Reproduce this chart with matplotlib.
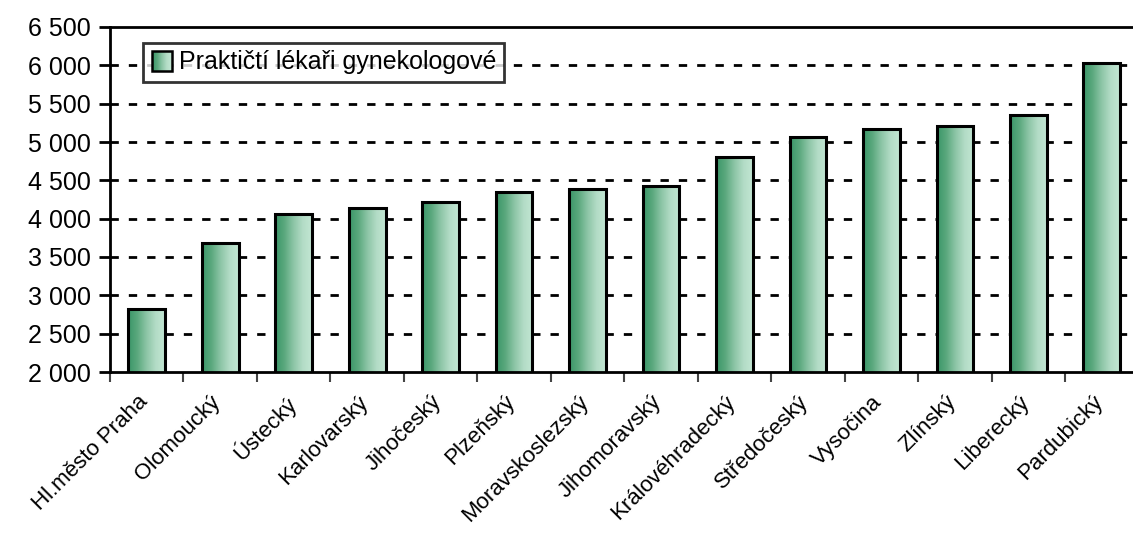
import numpy as np
import matplotlib
matplotlib.use("Agg")
import matplotlib.pyplot as plt
from matplotlib.colors import LinearSegmentedColormap
from matplotlib.patches import Rectangle, Patch
from matplotlib.legend_handler import HandlerPatch
from matplotlib.ticker import FuncFormatter, MultipleLocator
from matplotlib.transforms import ScaledTranslation

plt.rcParams['font.family'] = ['Liberation Sans Narrow', 'Liberation Sans', 'DejaVu Sans']

categories = ["Hl.město Praha", "Olomoucký", "Ústecký", "Karlovarský", "Jihočeský",
              "Plzeňský", "Moravskoslezský", "Jihomoravský", "Královéhradecký",
              "Středočeský", "Vysočina", "Zlínský", "Liberecký", "Pardubický"]
values = [2816, 3687, 4056, 4133, 4221, 4346, 4386, 4430, 4800, 5065, 5164, 5212, 5352, 6034]
series_name = "Praktičtí lékaři gynekologové"

cmap = LinearSegmentedColormap.from_list(
    "grn", ["#3a9568", "#5aa87d", "#8cc5a6", "#b3dcc6", "#c2e6d3"])

W, H = 1133, 534
fig = plt.figure(figsize=(W / 100, H / 100), dpi=100)
left, right, bottom, top = 110, 1138.6, 372, 27
ax = fig.add_axes([left / W, (H - bottom) / H, (right - left) / W, (bottom - top) / H])

x = np.arange(len(categories))
bars = ax.bar(x, values, width=0.5, facecolor="none", edgecolor="black",
              linewidth=2.2, zorder=3)
grad = np.linspace(0, 1, 256).reshape(1, -1)
for b in bars:
    bx, by = b.get_x(), b.get_y()
    bw, bh = b.get_width(), b.get_height()
    im = ax.imshow(grad, cmap=cmap, aspect="auto",
                   extent=[bx, bx + bw, 2000, by + bh], zorder=2,
                   interpolation="bilinear")
    im.set_clip_path(b)

ax.set_xlim(-0.5, len(categories) - 0.5)
ax.set_ylim(2000, 6500)
ax.yaxis.set_major_locator(MultipleLocator(500))
ax.yaxis.set_major_formatter(FuncFormatter(lambda v, p: f"{int(v):,}".replace(",", " ")))
ax.set_aspect("auto")

for yv in range(2500, 6500, 500):
    ax.axhline(yv, color="black", linewidth=2.0, linestyle=(0, (3, 3.6)), zorder=1)

ax.spines["right"].set_visible(False)
for s in ["left", "bottom", "top"]:
    ax.spines[s].set_linewidth(2.0)
    ax.spines[s].set_color("black")

ax.set_xticks(np.arange(-0.5, len(categories) - 0.5, 1.0))
ax.set_xticklabels([])
ax.set_xticks(x, minor=True)
ax.set_xticklabels(categories, minor=True, rotation=45, ha="right",
                   rotation_mode="anchor", fontsize=16)
ax.tick_params(axis="x", which="major", length=7, width=1.5, color="#444444", direction="out")
ax.tick_params(axis="x", which="minor", length=0, pad=14)
ax.tick_params(axis="y", length=8, width=2, direction="out", labelsize=18, pad=6)
shift = ScaledTranslation(-10 / 100, 0, fig.dpi_scale_trans)
for lbl in ax.get_xticklabels(minor=True):
    lbl.set_transform(lbl.get_transform() + shift)


class GradientHandler(HandlerPatch):
    def create_artists(self, legend, orig_handle, xdescent, ydescent, width, height,
                       fontsize, trans):
        size = min(width, height) * 1.15
        x0 = -xdescent + (width - size) / 2
        y0 = -ydescent + (height - size) / 2
        arts = []
        n = 20
        for i in range(n):
            r = Rectangle((x0 + size * i / n, y0), size / n + 0.3, size,
                          facecolor=cmap(i / (n - 1)), edgecolor="none", transform=trans)
            arts.append(r)
        arts.append(Rectangle((x0, y0), size, size, facecolor="none",
                              edgecolor="black", linewidth=1.8, transform=trans))
        return arts


handle = Patch(facecolor="#6ab38c", edgecolor="black")
leg = ax.legend([handle], [series_name], loc="upper left",
                bbox_to_anchor=((143 - left) / (right - left), (bottom - 43) / (bottom - top)),
                handler_map={Patch: GradientHandler()}, fontsize=18,
                frameon=True, fancybox=False, borderpad=0.3, handlelength=0.9,
                handletextpad=0.25, borderaxespad=0)
leg.get_frame().set_edgecolor("black")
leg.get_frame().set_linewidth(2.0)
leg.set_zorder(5)

fig.savefig("out.png", dpi=100)
